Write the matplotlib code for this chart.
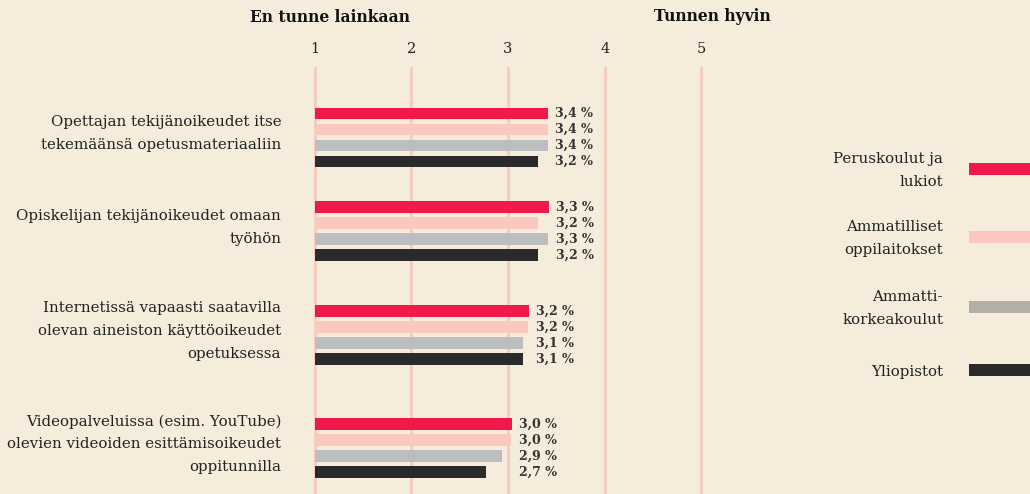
import matplotlib.pyplot as plt
from matplotlib.patches import Rectangle
import numpy as np

categories = [
    'Opettajan tekijänoikeudet itse\ntekemäänsä opetusmateriaaliin',
    'Opiskelijan tekijänoikeudet omaan\ntyöhön',
    'Internetissä vapaasti saatavilla\nolevan aineiston käyttöoikeudet\nopetuksessa',
    'Videopalveluissa (esim. YouTube)\nolevien videoiden esittämisoikeudet\noppitunnilla',
]
series = ['Peruskoulut ja\nlukiot', 'Ammatilliset\noppilaitokset',
          'Ammatti-\nkorkeakoulut', 'Yliopistot']

# bar lengths as drawn, and the printed value labels
perus = [3.41, 3.42, 3.22, 3.04]
ammatilliset = [3.41, 3.31, 3.21, 3.03]
amk = [3.41, 3.41, 3.16, 2.94]
yliopistot = [3.31, 3.31, 3.16, 2.77]

perus_lbl = ['3,4 %', '3,3 %', '3,2 %', '3,0 %']
ammatilliset_lbl = ['3,4 %', '3,2 %', '3,2 %', '3,0 %']
amk_lbl = ['3,4 %', '3,3 %', '3,1 %', '2,9 %']
yliopistot_lbl = ['3,2 %', '3,2 %', '3,1 %', '2,7 %']

scale_ticks = [1, 2, 3, 4, 5]

bar_colors = ['#F0194A', '#FAC8BF', '#BCBDBF', '#2A2A2A']
legend_colors = ['#F0194A', '#FAC8BF', '#B3AEA8', '#2A2A2A']
bg = '#F5ECDC'
grid_col = '#F6CBBF'
text_col = '#222222'
serif = 'DejaVu Serif'

if __name__ == "__main__":
    W, H = 1030, 494
    fig = plt.figure(figsize=(W / 100, H / 100), dpi=100, facecolor=bg)

    # background layer in pixel coords for headers and legend
    bgax = fig.add_axes([0, 0, 1, 1], zorder=0)
    bgax.set_xlim(0, W)
    bgax.set_ylim(H, 0)
    bgax.axis('off')

    # main axes: x=1 at px 314.6, 96.7 px per unit
    x0_px, unit_px = 314.6, 96.7
    left_px, right_px, top_px = 300, 720, 67
    ax = fig.add_axes([left_px / W, 0, (right_px - left_px) / W, (H - top_px) / H], zorder=1)
    ax.set_facecolor('none')
    ax.set_xlim(1 - (x0_px - left_px) / unit_px, 1 + (right_px - x0_px) / unit_px)

    # group layout in bar slots (16 px each)
    group_start = np.array([0, 5.84, 12.34, 19.4])
    ax.set_ylim((H - 113.5) / 16, -(113.5 - top_px) / 16)

    values = [perus, ammatilliset, amk, yliopistot]
    labels = [perus_lbl, ammatilliset_lbl, amk_lbl, yliopistot_lbl]
    for i, (vals, col) in enumerate(zip(values, bar_colors)):
        ax.barh(group_start + i, np.array(vals) - 1, left=1, height=0.73, color=col, zorder=2)

    group_max = np.max(np.array(values), axis=0)
    for i, lbls in enumerate(labels):
        for g, txt in enumerate(lbls):
            ax.annotate(txt, (group_max[g], group_start[g] + i), xytext=(5, 0),
                        textcoords='offset points', ha='left', va='center',
                        fontsize=9, fontweight='bold', family=serif,
                        color='#333333')

    ax.set_xticks(scale_ticks)
    ax.xaxis.tick_top()
    ax.tick_params(axis='x', length=0, pad=8, labelsize=10.5, labelcolor=text_col)
    for t in ax.get_xticklabels():
        t.set_family(serif)
    ax.grid(axis='x', color=grid_col, lw=2, zorder=0)
    ax.set_axisbelow(True)

    ax.set_yticks(group_start + 0.9)
    ax.set_yticklabels(categories, family=serif, fontsize=10.8, color=text_col)
    ax.tick_params(axis='y', length=0, pad=13.5)
    for t in ax.get_yticklabels():
        t.set_linespacing(1.8)

    for s in ax.spines.values():
        s.set_visible(False)

    bgax.text(330, 17.5, 'En tunne lainkaan', ha='center', va='center', fontsize=11.2,
              fontweight='bold', family=serif, color='#111111')
    bgax.text(712, 16.5, 'Tunnen hyvin', ha='center', va='center', fontsize=11.2,
              fontweight='bold', family=serif, color='#111111')

    legend_y = [169, 237, 307, 370]
    for name, col, y in zip(series, legend_colors, legend_y):
        bgax.add_patch(Rectangle((969, y - 6), 80, 12, color=col, lw=0))
        bgax.text(943, y + 1.5, name, ha='right', va='center', fontsize=10.8,
                  family=serif, color=text_col, linespacing=1.8)

    plt.savefig('out.png', dpi=100, facecolor=bg)
